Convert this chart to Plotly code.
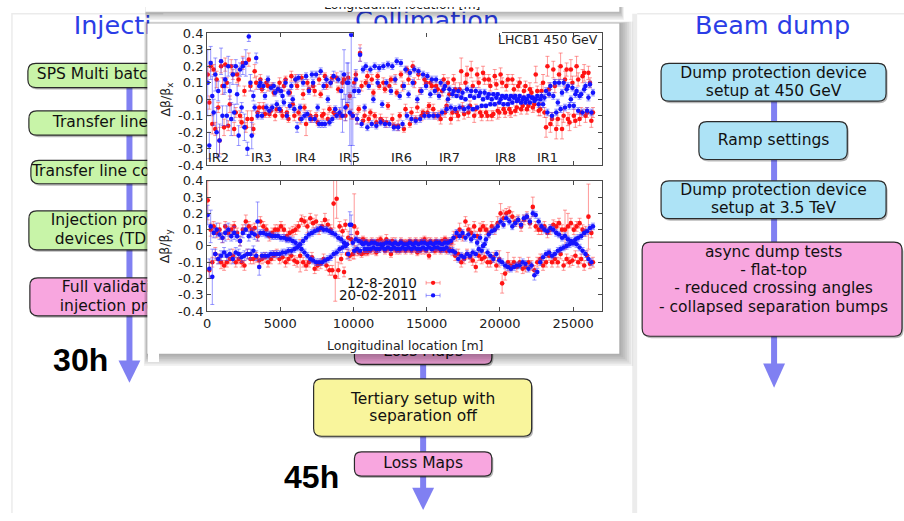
import plotly.graph_objects as go

W, H = 904, 521

# ---------------------------------------------------------------- data
# BPM longitudinal positions [m]
bpm_s = [
    40, 150, 245, 355, 450, 560, 650, 760, 850, 955, 1050, 1160,
    1240, 1350, 1445, 1555, 1650, 1760, 1850, 1960, 2050, 2155, 2250, 2360,
    2440, 2550, 2645, 2755, 2850, 2960, 3050, 3160, 3250, 3355, 3450, 3560,
    3640, 3750, 3845, 3955, 4050, 4160, 4250, 4360, 4450, 4555, 4650, 4760,
    4840, 4950, 5045, 5155, 5250, 5360, 5450, 5560, 5650, 5755, 5850, 5960,
    6040, 6150, 6245, 6355, 6450, 6560, 6650, 6760, 6850, 6955, 7050, 7160,
    7240, 7350, 7445, 7555, 7650, 7760, 7850, 7960, 8050, 8155, 8250, 8360,
    8440, 8550, 8645, 8755, 8850, 8960, 9050, 9160, 9250, 9355, 9450, 9560,
    9640, 9750, 9845, 9955, 10050, 10160, 10250, 10360, 10450, 10555, 10650, 10760,
    10840, 10950, 11045, 11155, 11250, 11360, 11450, 11560, 11650, 11755, 11850, 11960,
    12040, 12150, 12245, 12355, 12450, 12560, 12650, 12760, 12850, 12955, 13050, 13160,
    13240, 13350, 13445, 13555, 13650, 13760, 13850, 13960, 14050, 14155, 14250, 14360,
    14440, 14550, 14645, 14755, 14850, 14960, 15050, 15160, 15250, 15355, 15450, 15560,
    15640, 15750, 15845, 15955, 16050, 16160, 16250, 16360, 16450, 16555, 16650, 16760,
    16840, 16950, 17045, 17155, 17250, 17360, 17450, 17560, 17650, 17755, 17850, 17960,
    18040, 18150, 18245, 18355, 18450, 18560, 18650, 18760, 18850, 18955, 19050, 19160,
    19240, 19350, 19445, 19555, 19650, 19760, 19850, 19960, 20050, 20155, 20250, 20360,
    20440, 20550, 20645, 20755, 20850, 20960, 21050, 21160, 21250, 21355, 21450, 21560,
    21640, 21750, 21845, 21955, 22050, 22160, 22250, 22360, 22450, 22555, 22650, 22760,
    22840, 22950, 23045, 23155, 23250, 23360, 23450, 23560, 23650, 23755, 23850, 23960,
    24040, 24150, 24245, 24355, 24450, 24560, 24650, 24760, 24850, 24955, 25050, 25160,
    25240, 25350, 25445, 25555, 25650, 25760, 25850, 25960, 26050, 26155, 26250, 26360,
]

# horizontal beta-beating [%], 12-8-2010, and its error bars [%]
dbx_2010 = [
    15, -2, 20, -15, 18, -18, 12, -5, -25, 20, 8, -17,
    21, 10, -16, -3, 20, 15, -18, -8, 15, 12, -10, -14,
    22, 5, -17, -12, 24, 8, -12, -18, 17, 10, -8, -5,
    12, 6, -5, -9, 10, 8, -9, -7, 8, 4, -10, -6,
    6, 10, -7, -10, 8, 12, -8, -12, 4, 14, -3, -10,
    12, 8, -8, -12, 13, 3, -5, -15, 10, 6, -10, -12,
    8, 5, -10, -14, 12, 3, -10, -9, 14, 8, -12, -6,
    10, 13, -8, -9, 13, 6, -9, -10, 10, 12, -10, -4,
    13, 2, -9, -10, 10, 15, -12, -6, 28, 8, -13, -10,
    10, 14, -12, -8, 12, 4, -10, -14, 14, 8, -12, -13,
    10, 6, -14, -4, 8, 12, -12, -16, 12, 4, -16, -10,
    15, 8, -18, -6, 18, 12, -15, -8, 20, 10, -12, -5,
    15, 5, -10, -8, 12, 10, -8, -4, 10, 8, -6, -10,
    8, 6, -10, -12, 5, 12, -8, -4, 10, 3, -12, -8,
    12, 6, -8, -10, 6, 17, -5, -9, 10, 15, -8, -4,
    18, 8, -10, -6, 15, 10, -8, -10, 16, 12, -8, -10,
    12, 8, -10, -9, 14, 9, -7, -8, 15, 10, -6, -8,
    8, 12, -6, -8, 12, 6, -7, -5, 8, 10, -6, -4,
    5, 8, -6, -4, 6, 4, -5, -3, 15, 5, -7, -6,
    5, 10, -8, -17, 20, 6, -15, -12, 18, 8, -18, -12,
    15, 20, -18, -10, 12, 18, -12, -14, 18, 10, -10, -13,
    20, 12, -12, -8, 14, 16, -10, -8, 16, 10, -13, -8,
]
dbx_2010_err = [
    5, 4, 3, 6, 3, 4, 5, 3, 8, 4, 5, 5,
    4, 3, 3, 5, 4, 3, 4, 3, 5, 4, 3, 3,
    4, 3, 3, 5, 4, 3, 5, 3, 4, 4, 3, 3,
    3, 2, 3, 2, 2, 3, 2, 3, 2, 2, 3, 2,
    2, 3, 2, 2, 3, 2, 3, 2, 2, 3, 2, 3,
    3, 2, 2, 3, 2, 3, 2, 7, 2, 2, 3, 2,
    2, 3, 2, 2, 3, 2, 2, 3, 2, 2, 3, 2,
    3, 2, 3, 2, 3, 2, 3, 2, 3, 2, 3, 2,
    3, 2, 3, 2, 3, 2, 3, 2, 5, 3, 2, 3,
    2, 3, 2, 2, 3, 2, 2, 3, 2, 2, 3, 2,
    3, 2, 3, 2, 3, 2, 3, 2, 3, 2, 3, 2,
    2, 3, 2, 3, 2, 3, 2, 3, 3, 3, 2, 3,
    3, 2, 3, 2, 3, 2, 3, 2, 3, 2, 3, 2,
    3, 3, 3, 3, 3, 3, 3, 3, 3, 3, 3, 3,
    3, 4, 3, 3, 4, 8, 3, 3, 4, 5, 3, 3,
    5, 3, 4, 3, 4, 3, 3, 3, 4, 3, 3, 3,
    3, 3, 3, 2, 4, 3, 5, 3, 4, 3, 3, 3,
    3, 3, 4, 3, 3, 3, 3, 3, 3, 3, 3, 3,
    3, 3, 3, 3, 4, 3, 3, 4, 5, 3, 3, 4,
    4, 5, 3, 6, 6, 4, 5, 4, 5, 4, 6, 4,
    5, 8, 6, 4, 5, 4, 4, 5, 6, 4, 4, 4,
    6, 4, 4, 3, 4, 5, 4, 3, 4, 3, 4, 3,
]

# horizontal beta-beating [%], 20-02-2011
dbx_2011 = [
    10, -28, 22, 2, -8, 15, -20, 5, -25, 23, -10, 8,
    12, -10, 20, 5, -12, 15, -8, 20, 3, -22, 18, -5,
    20, -17, 22, -30, 38, 10, -22, 2, -5, 25, -10, 8,
    10, -10, 8, 2, -5, 12, -7, 7, -5, 8, 4, -3,
    6, -6, 5, 2, -2, 10, -10, 4, -4, 8, 0, -6,
    12, -17, 13, -5, -12, 10, -10, 14, -9, 5, -12, 15,
    10, -12, 15, -5, -15, 17, -15, 8, -15, 12, 0, -14,
    10, -12, 14, -6, -10, 12, -8, 5, -10, 15, -5, 10,
    10, -8, 39, -10, 5, 12, -12, 5, 27, -15, 18, -5,
    20, -17, 8, 18, -15, 0, 20, -16, 10, 19, -14, -3,
    20, -15, 10, 21, -15, 5, 20, -17, 12, 23, -17, 2,
    22, -15, 8, 18, -10, 3, 16, -12, 10, 18, -13, 0,
    17, -12, 5, 15, -10, 8, 14, -10, 3, 12, -10, 5,
    12, -10, 2, 10, -8, 6, 8, -6, 0, 6, -5, 3,
    5, -6, 2, 5, -5, 1, 4, -6, 0, 6, -5, 2,
    5, -6, 1, 5, -5, 2, 4, -4, 0, 4, -4, 1,
    3, -3, 0, 3, -3, 1, 3, -2, 0, 2, -3, 1,
    2, -3, 0, 2, -2, 1, 2, -1, 0, 2, -2, 0,
    1, -2, 0, 2, -2, 1, 1, -1, 0, 2, -3, 0,
    2, -3, 1, 5, -8, 3, 8, -10, 2, 10, -8, -2,
    10, -6, 4, 10, -5, 6, 8, -4, 0, 7, -4, 3,
    5, -7, 2, 3, -8, 6, 8, -7, 1, 9, -8, 4,
]
dbx_2011_err = [
    20, 8, 10, 12, 8, 10, 15, 6, 10, 8, 6, 5,
    8, 6, 6, 5, 10, 6, 5, 4, 6, 6, 4, 3,
    5, 8, 8, 4, 3, 5, 8, 3, 2, 3, 2, 2,
    2, 2, 2, 2, 2, 2, 2, 2, 2, 2, 2, 2,
    2, 2, 2, 3, 2, 2, 2, 2, 2, 2, 2, 2,
    2, 3, 2, 2, 2, 2, 2, 2, 2, 2, 2, 2,
    2, 2, 2, 2, 2, 2, 2, 2, 2, 2, 2, 2,
    2, 2, 3, 2, 2, 2, 3, 12, 10, 15, 8, 12,
    12, 20, 80, 18, 4, 6, 3, 2, 4, 2, 2, 2,
    2, 2, 2, 2, 2, 2, 2, 2, 2, 2, 2, 2,
    2, 2, 2, 2, 2, 2, 2, 2, 2, 2, 2, 2,
    2, 2, 2, 2, 2, 2, 2, 2, 2, 2, 2, 2,
    2, 2, 2, 2, 2, 2, 2, 2, 2, 2, 2, 2,
    2, 2, 2, 2, 2, 2, 2, 2, 2, 2, 2, 2,
    2, 2, 1, 2, 2, 1, 2, 2, 1, 2, 2, 1,
    2, 1, 1, 2, 1, 1, 2, 1, 1, 2, 1, 1,
    1, 1, 1, 1, 1, 1, 1, 1, 1, 1, 1, 1,
    1, 1, 1, 1, 1, 1, 1, 1, 1, 1, 1, 1,
    1, 1, 1, 1, 1, 1, 1, 1, 1, 1, 2, 1,
    2, 2, 2, 2, 2, 2, 2, 2, 2, 2, 2, 2,
    2, 2, 2, 2, 2, 2, 2, 2, 2, 2, 2, 2,
    2, 2, 2, 2, 2, 2, 2, 2, 2, 2, 2, 2,
]

# vertical beta-beating [%], 12-8-2010
dby_2010 = [
    28, -15, 10, -10, 12, -5, 8, -8, 10, -10, 5, -12,
    12, -10, 8, -8, 10, -6, 12, -10, 8, -8, 3, -10,
    10, -12, 15, -5, 12, -8, 10, -8, 11, -7, 6, -9,
    15, -8, 12, -7, 10, -10, 6, -8, 8, -6, 10, -5,
    10, -8, 12, -7, 10, -10, 6, -8, 8, -6, 9, -9,
    10, -10, 12, -6, 16, -10, 15, -12, 12, -10, 17, -7,
    14, -14, 15, -12, 10, -11, 12, -8, 16, -12, 13, -15,
    10, -15, 26, -19, 29, -15, 12, -8, 9, -16, 13, -5,
    5, -6, 4, -5, 12, -3, 8, -4, 3, -5, 4, -4,
    3, -4, 2, -3, 3, -2, 2, -4, 3, -2, 4, -1,
    2, -3, 4, -2, 2, -5, 3, -2, 2, -3, 1, -3,
    3, -2, 2, -3, 2, -2, 3, -3, 2, -2, 3, -4,
    2, -3, 3, -2, 4, -3, 2, -6, 3, -2, 2, -3,
    3, -2, 2, -3, 3, -2, 4, -3, 3, -2, 2, -3,
    5, -6, 6, -5, 10, -10, 6, -8, 15, -5, 10, -7,
    8, -9, 12, -13, 6, -6, 10, -8, 12, -7, 10, -10,
    8, -10, 12, -7, 10, -12, 14, -8, 20, -23, 17, -17,
    20, -10, 21, -12, 18, -10, 15, -13, 16, -10, 12, -14,
    16, -13, 18, -10, 14, -12, 24, -15, 12, -10, 10, -8,
    10, -12, 12, -10, 8, -6, 10, -10, 13, -8, 12, -10,
    14, -5, 10, -12, 10, -8, 12, -10, 14, -9, 10, -6,
    12, -10, 14, -8, 10, -12, 9, -6, 18, -11, 8, -10,
]
dby_2010_err = [
    12, 5, 4, 3, 3, 4, 3, 3, 4, 4, 3, 3,
    3, 3, 4, 3, 3, 4, 3, 3, 3, 3, 3, 3,
    3, 3, 4, 3, 3, 3, 3, 3, 3, 3, 3, 3,
    3, 3, 3, 3, 3, 3, 3, 3, 3, 3, 3, 3,
    3, 3, 3, 3, 3, 3, 3, 3, 3, 3, 3, 3,
    3, 3, 3, 10, 3, 3, 3, 3, 4, 3, 3, 3,
    3, 3, 4, 3, 3, 3, 3, 3, 4, 3, 3, 3,
    3, 3, 15, 15, 12, 5, 3, 3, 3, 3, 3, 3,
    4, 3, 3, 3, 20, 3, 3, 2, 2, 2, 2, 2,
    2, 2, 2, 2, 2, 3, 2, 2, 2, 2, 2, 2,
    2, 2, 3, 2, 2, 2, 2, 2, 3, 2, 2, 2,
    2, 2, 2, 2, 2, 2, 2, 2, 2, 2, 2, 2,
    2, 2, 2, 3, 2, 2, 3, 2, 2, 2, 2, 2,
    2, 2, 2, 2, 2, 2, 2, 2, 2, 2, 2, 3,
    4, 3, 3, 3, 4, 3, 3, 3, 3, 3, 3, 3,
    3, 3, 3, 3, 3, 3, 4, 3, 3, 3, 3, 3,
    3, 3, 3, 3, 3, 3, 4, 5, 6, 6, 5, 4,
    3, 6, 3, 3, 3, 3, 3, 3, 3, 3, 3, 3,
    3, 3, 3, 3, 3, 3, 6, 3, 3, 3, 3, 3,
    3, 3, 3, 3, 3, 3, 3, 3, 3, 3, 3, 3,
    3, 3, 3, 3, 12, 3, 8, 3, 3, 3, 3, 3,
    3, 3, 3, 3, 3, 3, 3, 3, 20, 3, 3, 3,
]

# vertical beta-beating [%], 20-02-2011
dby_2011 = [
    19, -14, 12, -19, 8, -5, 10, -8, 7, -6, 5, -4,
    8, -6, 10, -5, 6, -8, 8, -4, 6, -5, 3, -7,
    8, -6, 10, -5, 6, -5, 8, -3, 7, -6, 15, -13,
    8, -6, 8, -6, 7, -6, 7, -5, 6, -5, 6, -5,
    6, -5, 5, -4, 5, -4, 4, -3, 4, -3, 3, -2,
    2, -1, 0, 1, -2, 3, -4, 5, -6, 7, -8, 8,
    -9, 9, -10, 10, -10, 11, -10, 10, -9, 10, -8, 9,
    -7, 8, -5, 7, -4, 5, -2, 4, -1, 2, 0, 1,
    -5, 13, 13, 2, -3, 4, -2, 3, -3, 2, 1, -2,
    2, -2, 1, -2, 2, -1, 2, -2, 1, -2, 1, -1,
    1, -2, 2, -1, 2, -2, 1, -1, 2, -2, 1, -2,
    2, -1, 1, -2, 1, -1, 2, -2, 1, -1, 2, -2,
    1, -2, 2, -1, 2, -2, 1, -1, 2, -2, 1, -1,
    2, -1, 2, -2, 1, -2, 2, -1, 2, -3, 3, -3,
    5, -4, 8, -8, 6, -6, 8, -7, 5, -5, 7, -6,
    4, -4, 6, -5, 2, -2, 5, -3, 0, 1, 4, -4,
    7, -6, 9, -8, 10, -5, 12, -9, 15, -10, 13, -12,
    17, -13, 15, -14, 12, -13, 14, -12, 16, -12, 13, -10,
    17, -11, 18, -14, 15, -12, 20, -18, 19, -16, 15, -10,
    12, -7, 10, -5, 9, -4, 11, -6, 10, -5, 8, -3,
    7, -2, 5, -1, 6, 0, 4, 1, 3, 2, 2, 4,
    1, 5, -1, 6, -3, 8, -5, 9, -8, 11, -10, 12,
]
dby_2011_err = [
    6, 6, 10, 17, 3, 3, 4, 3, 3, 3, 3, 3,
    5, 3, 4, 3, 3, 3, 4, 3, 3, 3, 3, 3,
    3, 3, 3, 3, 3, 3, 3, 3, 3, 3, 12, 5,
    2, 2, 2, 2, 2, 2, 2, 2, 2, 2, 2, 2,
    2, 2, 2, 2, 2, 2, 2, 2, 2, 2, 2, 2,
    2, 2, 2, 2, 2, 2, 2, 2, 2, 2, 2, 2,
    2, 2, 2, 2, 2, 2, 2, 2, 2, 2, 2, 2,
    2, 2, 2, 2, 2, 2, 2, 2, 3, 2, 2, 2,
    3, 8, 6, 2, 2, 2, 2, 2, 2, 2, 2, 2,
    2, 2, 2, 2, 2, 2, 2, 2, 2, 2, 2, 2,
    2, 2, 2, 2, 2, 2, 2, 2, 2, 2, 2, 2,
    2, 2, 2, 2, 2, 2, 2, 2, 2, 2, 2, 2,
    2, 2, 2, 2, 2, 2, 2, 2, 2, 2, 2, 2,
    2, 2, 2, 2, 2, 2, 2, 2, 2, 2, 2, 2,
    2, 2, 2, 2, 2, 2, 2, 2, 2, 2, 2, 2,
    2, 2, 2, 2, 2, 2, 2, 2, 2, 2, 2, 2,
    2, 2, 2, 2, 2, 2, 2, 2, 2, 2, 2, 2,
    2, 2, 2, 2, 2, 2, 2, 2, 2, 2, 2, 2,
    2, 2, 2, 2, 2, 2, 2, 3, 2, 2, 2, 2,
    2, 2, 2, 2, 2, 2, 2, 2, 2, 2, 2, 2,
    2, 2, 2, 2, 2, 2, 2, 2, 2, 2, 2, 2,
    2, 2, 2, 2, 2, 2, 2, 2, 2, 2, 2, 2,
]

for arr in (dbx_2010, dbx_2010_err, dbx_2011, dbx_2011_err,
            dby_2010, dby_2010_err, dby_2011, dby_2011_err):
    assert len(arr) == len(bpm_s), len(arr)

ir_names = ["IR2", "IR3", "IR4", "IR5", "IR6", "IR7", "IR8", "IR1"]
ir_s = [750, 3700, 6750, 9750, 13250, 16550, 20400, 23250]

x_ticks = [0, 5000, 10000, 15000, 20000, 25000]
x_ticktext = ["0", "5000", "10000", "15000", "20000", "25000"]
y_ticks = [-0.4, -0.3, -0.2, -0.1, 0, 0.1, 0.2, 0.3, 0.4]
y_ticktext = ["-0.4", "-0.3", "-0.2", "-0.1", "0", "0.1", "0.2", "0.3", "0.4"]

series_labels = ["12-8-2010", "20-02-2011"]

# ---------------------------------------------------------------- styling
RED, BLUE = "#ff1414", "#1414ff"
RED_ERR, BLUE_ERR = "rgba(255,70,70,0.55)", "rgba(70,70,255,0.55)"
ARROW = "#8080f2"
GREEN_BOX, PINK_BOX, BLUE_BOX, YELLOW_BOX = "#c8f4a8", "#f8a6df", "#ade3f6", "#f9f59c"
TITLE_BLUE = "#2b3de6"
FRAME = "#4a4a4a"
SANS = "DejaVu Sans"

# plot window and axes frames (pixels)
WIN = (144, 17, 618, 357)
PX_L, PX_R = 204, 601
TOP_Y0, TOP_Y1 = 27, 163
BOT_Y0, BOT_Y1 = 179, 313

fig = go.Figure()
shapes = []


def rect_trace(x0, y0, x1, y1, color):
    fig.add_trace(go.Scatter(
        x=[x0, x1, x1, x0, x0], y=[y0, y0, y1, y1, y0], mode="lines",
        fill="toself", fillcolor=color, line=dict(width=0),
        hoverinfo="skip", showlegend=False, xaxis="x", yaxis="y"))


def rrect_path(x0, y0, x1, y1, r):
    return (f"M{x0 + r},{y0} L{x1 - r},{y0} Q{x1},{y0} {x1},{y0 + r} "
            f"L{x1},{y1 - r} Q{x1},{y1} {x1 - r},{y1} L{x0 + r},{y1} "
            f"Q{x0},{y1} {x0},{y1 - r} L{x0},{y0 + r} Q{x0},{y0} {x0 + r},{y0} Z")


def box(x0, y0, x1, y1, fill, r=8):
    shapes.append(dict(type="path", path=rrect_path(x0 + 1.5, y0 + 2, x1 + 1.5, y1 + 2, r),
                       xref="x", yref="y", layer="below",
                       fillcolor="rgba(0,0,0,0.28)", line=dict(width=0)))
    shapes.append(dict(type="path", path=rrect_path(x0, y0, x1, y1, r),
                       xref="x", yref="y", layer="below",
                       fillcolor=fill, line=dict(color="#2b2b2b", width=1.2)))


def arrow(x, y_top, y_head, y_tip, half=11):
    shapes.append(dict(type="line", x0=x, x1=x, y0=y_top, y1=y_head + 1,
                       xref="x", yref="y", layer="below",
                       line=dict(color=ARROW, width=6)))
    shapes.append(dict(type="path",
                       path=f"M{x - half},{y_head} L{x + half},{y_head} L{x},{y_tip} Z",
                       xref="x", yref="y", layer="below",
                       fillcolor=ARROW, line=dict(width=0)))


def slide_text(x, y, text, size=15.5, color="#111", align="center", family=SANS,
               weight="normal", dy=None):
    # slide text lives in the page layer, underneath the plot windows;
    # labels sit slightly low in their box, so lift them a little
    if dy is None:
        dy = -0.2 * size
    y = y + dy
    if align == "center":
        x0, x1, pos = x - 200, x + 200, "middle center"
    else:
        x = x - 7
        x0, x1, pos = x, x + 400, "middle left"
    shapes.append(dict(type="rect", x0=x0, x1=x1, y0=y - 10, y1=y + 10,
                       xref="x", yref="y", layer="below",
                       fillcolor="rgba(0,0,0,0)", line=dict(width=0),
                       label=dict(text=text, textposition=pos, padding=0,
                                  font=dict(family=family, size=size, color=color,
                                            weight=weight))))


# ---------------------------------------------------------------- slide background
shapes.append(dict(type="path", path="M8,521 L8,7 L160,7", xref="x", yref="y", layer="below",
                   line=dict(color="#ebebeb", width=1.5)))
shapes.append(dict(type="rect", x0=631, x1=636, y0=7, y1=521, xref="x", yref="y", layer="below",
                   fillcolor="#ececec", line=dict(width=0)))
shapes.append(dict(type="line", x0=636, x1=904, y0=7, y1=7, xref="x", yref="y", layer="below",
                   line=dict(color="#ebebeb", width=1.5)))

arrow(126, 70, 364, 387)
arrow(773.5, 80, 367, 392)
arrow(421, 330, 495, 518)

# injection column
box(24, 58, 240, 83, GREEN_BOX)
box(25, 107, 240, 132, GREEN_BOX)
box(27, 158, 240, 182, GREEN_BOX)
box(25, 210, 240, 250, GREEN_BOX)
box(26, 279, 240, 318, PINK_BOX)
# collimation column
box(352, 342, 490, 368, PINK_BOX, r=7)
box(311, 383, 530, 442, YELLOW_BOX)
box(352, 458, 490, 483, PINK_BOX, r=7)
# beam dump column
box(660, 58, 886, 97, BLUE_BOX)
box(698, 118, 847, 157, BLUE_BOX)
box(660, 179, 886, 218, BLUE_BOX)
box(641, 242, 902, 339, PINK_BOX)

# column titles
slide_text(74, 24, "Injecti", 25.5, TITLE_BLUE, align="left", dy=-7.5)
slide_text(425, 12, "Collimation", 25.5, TITLE_BLUE, dy=0)
slide_text(772, 24, "Beam dump", 25.5, TITLE_BLUE, dy=-7.5)

# injection column
slide_text(37, 70.5, "SPS Multi batc", align="left")
slide_text(53, 119.5, "Transfer line s", align="left")
slide_text(32, 170, "Transfer line co", align="left")
slide_text(51, 221, "Injection prot", align="left")
slide_text(55, 240, "devices (TDI", align="left")
slide_text(62, 290, "Full validati", align="left")
slide_text(60, 309, "injection prot", align="left")
slide_text(77, 360, "30h", 32, "#000", family="Liberation Sans", weight="bold", dy=0)

# collimation column
slide_text(421, 356, "Loss Maps")
slide_text(421, 405, "Tertiary setup with")
slide_text(421, 423, "separation off")
slide_text(421, 471, "Loss Maps")
slide_text(309, 481, "45h", 32, "#000", family="Liberation Sans", weight="bold", dy=0)

# beam dump column
slide_text(773, 69, "Dump protection device")
slide_text(773, 88, "setup at 450 GeV")
slide_text(773, 139, "Ramp settings")
slide_text(773, 190, "Dump protection device")
slide_text(773, 209, "setup at 3.5 TeV")
slide_text(773, 254, "async dump tests")
slide_text(773, 272, "- flat-top")
slide_text(773, 291, "- reduced crossing angles")
slide_text(773, 310, "- collapsed separation bumps")

# ---------------------------------------------------------------- plot windows
# second window, mostly above the page
for k in range(6, 0, -1):
    rect_trace(WIN[0] - 2, -30, WIN[2] + 1 + k * 0.6, 5 + k * 1.4, "rgba(0,0,0,0.05)")
rect_trace(WIN[0] - 2, -30, WIN[2], 5, "#ffffff")
fig.add_trace(go.Scatter(
    x=[400], y=[-1], text=["Longitudinal location [m]"], mode="text",
    textfont=dict(family=SANS, size=12.5, color="#222"),
    hoverinfo="skip", showlegend=False, xaxis="x", yaxis="y"))

# main window with soft shadow
for k in range(7, 0, -1):
    rect_trace(WIN[0] - k * 0.5, WIN[1] - k * 0.3, WIN[2] + k * 2.0, WIN[3] + k * 1.8,
               "rgba(0,0,0,0.05)")
rect_trace(*WIN, "#ffffff")


# ---------------------------------------------------------------- data traces
def add_series(y_pct, err_pct, color, ecolor, xa, ya):
    fig.add_trace(go.Scatter(
        x=bpm_s, y=[v / 100 for v in y_pct], mode="markers",
        marker=dict(size=4.6, color=color, line=dict(width=0)),
        error_y=dict(type="data", array=[e / 100 for e in err_pct], color=ecolor,
                     thickness=1, width=2),
        hoverinfo="skip", showlegend=False, xaxis=xa, yaxis=ya))


add_series(dbx_2010, dbx_2010_err, RED, RED_ERR, "x2", "y2")
add_series(dbx_2011, dbx_2011_err, BLUE, BLUE_ERR, "x2", "y2")
add_series(dby_2010, dby_2010_err, RED, RED_ERR, "x3", "y3")
add_series(dby_2011, dby_2011_err, BLUE, BLUE_ERR, "x3", "y3")

# ---------------------------------------------------------------- axes
hidden = dict(visible=False, fixedrange=True, showgrid=False, zeroline=False)
frame = dict(showline=True, mirror="ticks", linecolor=FRAME, linewidth=1,
             ticks="inside", ticklen=4, tickcolor=FRAME, tickwidth=1,
             showgrid=False, zeroline=False, fixedrange=True,
             tickfont=dict(family=SANS, size=13, color="#222"))

x_dom = [PX_L / W, PX_R / W]
fig.update_layout(
    width=W, height=H, margin=dict(l=0, r=0, t=0, b=0),
    paper_bgcolor="#ffffff", plot_bgcolor="rgba(0,0,0,0)",
    showlegend=False,
    xaxis=dict(domain=[0, 1], range=[0, W], **hidden),
    yaxis=dict(domain=[0, 1], range=[H, 0], **hidden),
    xaxis2=dict(domain=x_dom, range=[0, 27000], anchor="y2", tickvals=x_ticks,
                showticklabels=False, **frame),
    yaxis2=dict(domain=[1 - TOP_Y1 / H, 1 - TOP_Y0 / H], range=[-0.4, 0.4], anchor="x2",
                tickvals=y_ticks, ticktext=y_ticktext, **frame),
    xaxis3=dict(domain=x_dom, range=[0, 27000], anchor="y3", tickvals=x_ticks,
                ticktext=x_ticktext, **frame),
    yaxis3=dict(domain=[1 - BOT_Y1 / H, 1 - BOT_Y0 / H], range=[-0.4, 0.4], anchor="x3",
                tickvals=y_ticks, ticktext=y_ticktext, **frame),
)

# ---------------------------------------------------------------- labels in the window
ann = []
# blank white patches over the empty margins of the window, so that nothing
# from the slide behind shows through there (drawn first, under the labels)
for px0, py0, pw, ph in ((WIN[0] + 1, WIN[1] + 1, 11, WIN[3] - WIN[1] - 2),
                         (352, WIN[1] + 1, 148, 8.5),
                         (350, 336, 142, WIN[3] - 336 - 0.5)):
    ann.append(dict(x=px0, y=py0, xref="x", yref="y", xanchor="left", yanchor="top",
                    text=" ", showarrow=False, bgcolor="#ffffff", width=pw, height=ph,
                    borderpad=0, borderwidth=0, font=dict(size=1)))

for name, s in zip(ir_names, ir_s):
    ann.append(dict(x=s, y=-0.35, xref="x2", yref="y2", text=name, showarrow=False,
                    font=dict(family=SANS, size=13, color="#222")))
ann.append(dict(x=599, y=33, xref="x", yref="y", text="LHCB1 450 GeV", showarrow=False,
                xanchor="right", font=dict(family=SANS, size=12.5, color="#222")))
ann.append(dict(x=163, y=95, xref="x", yref="y", text="Δβ/β<sub>x</sub>", textangle=-90,
                showarrow=False, font=dict(family=SANS, size=12.5, color="#222")))
ann.append(dict(x=163, y=246, xref="x", yref="y", text="Δβ/β<sub>y</sub>", textangle=-90,
                showarrow=False, font=dict(family=SANS, size=12.5, color="#222")))
ann.append(dict(x=403, y=349, xref="x", yref="y", text="Longitudinal location [m]",
                showarrow=False, font=dict(family=SANS, size=12.5, color="#222")))

for label, ly, col, ecol in ((series_labels[0], 284, RED, RED_ERR),
                             (series_labels[1], 297, BLUE, BLUE_ERR)):
    ann.append(dict(x=416, y=ly, xref="x", yref="y", text=label, showarrow=False,
                    xanchor="right", borderpad=0,
                    font=dict(family=SANS, size=13.5, color="#111")))
    shapes.append(dict(type="line", x0=424, x1=438, y0=ly, y1=ly, xref="x", yref="y",
                       layer="above", line=dict(color=ecol, width=1)))
    for cx in (424, 438):
        shapes.append(dict(type="line", x0=cx, x1=cx, y0=ly - 2, y1=ly + 2, xref="x",
                           yref="y", layer="above", line=dict(color=ecol, width=1)))
    shapes.append(dict(type="circle", x0=428.8, x1=433.2, y0=ly - 2.2, y1=ly + 2.2,
                       xref="x", yref="y", layer="above", fillcolor=col,
                       line=dict(width=0)))

fig.update_layout(shapes=shapes, annotations=ann)

fig.write_html("out.html", config={"displayModeBar": False, "staticPlot": True})
